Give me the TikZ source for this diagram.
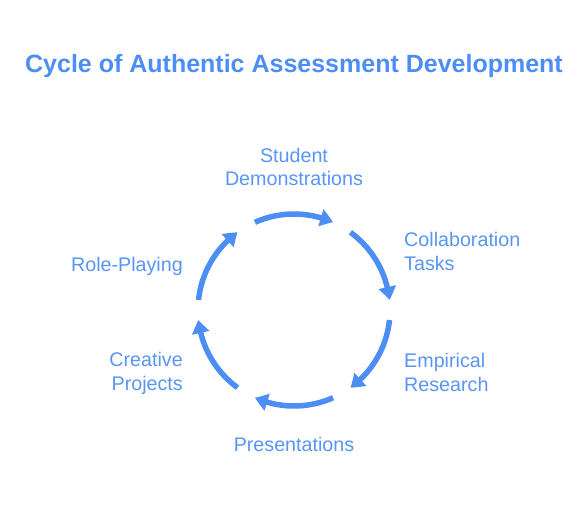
\documentclass[tikz,border=0pt]{standalone}
\usepackage{fontspec}
\setmainfont{Liberation Sans}
\usetikzlibrary{arrows.meta,bending}
\definecolor{cycblue}{RGB}{77,142,245}
\definecolor{labblue}{RGB}{88,149,245}
\begin{document}
\begin{tikzpicture}[x=1pt,y=1pt,
  lab/.style={text=labblue,inner sep=0pt,font=\fontsize{19.7}{23.5}\selectfont},
  seg/.style={draw=cycblue,line width=5.5pt,-{Triangle[length=13pt,width=17pt,bend]}}]
\useasboundingbox (0,0) rectangle (588,504);
\node[inner sep=0pt,anchor=base,text=cycblue,font=\fontsize{25}{29}\selectfont\bfseries] (title) at (294,431) {Cycle of Authentic Assessment Development};
\coordinate (C) at (294,194);
\foreach \c in {90,30,-30,-90,-150,150}{
  \draw[seg] ([shift={(\c+24:96)}]C) arc[start angle=\c+24,end angle=\c-24,radius=96];
}
\node[lab,anchor=base,align=center] (s) at (294,318) {Student\\Demonstrations};
\node[lab,anchor=base west,align=left] (c) at (404,234) {Collaboration\\Tasks};
\node[lab,anchor=base west,align=left] (e) at (404,113) {Empirical\\Research};
\node[lab,anchor=base] (p) at (294,53) {Presentations};
\node[lab,anchor=base east,align=right] (cp) at (183,114) {Creative\\Projects};
\node[lab,anchor=base east] (r) at (183,233) {Role-Playing};
\end{tikzpicture}
\end{document}
